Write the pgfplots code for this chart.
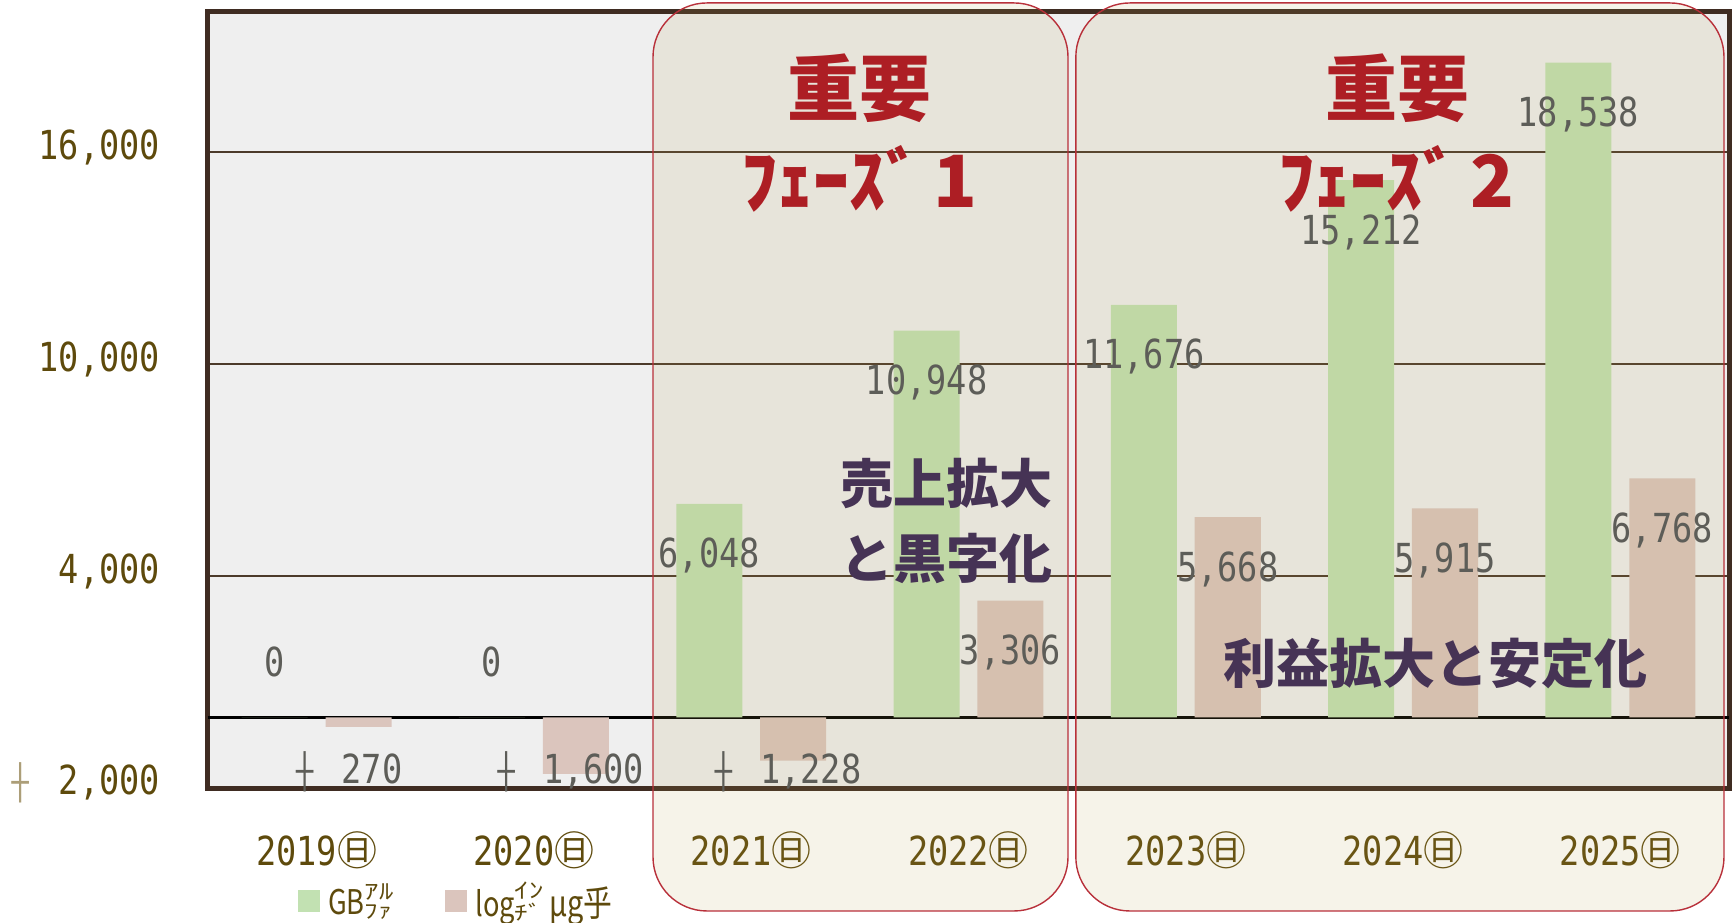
\documentclass[border=0pt]{standalone}
\usepackage{fontspec}
\usepackage{pgfplots}
\pgfplotsset{compat=1.18}
\newfontfamily\cjk{Noto Sans CJK JP}
\newfontfamily\num[FakeStretch=0.84]{DejaVu Sans Mono}
\newfontfamily\legf[FakeStretch=0.8]{Noto Sans CJK JP}
\definecolor{bgc}{RGB}{239,239,239}
\definecolor{framec}{RGB}{63,44,34}
\definecolor{gridc}{RGB}{76,58,42}
\definecolor{tickc}{RGB}{94,74,12}
\definecolor{crossc}{RGB}{172,158,120}
\definecolor{lblc}{RGB}{93,93,88}
\definecolor{barG}{RGB}{194,225,178}
\definecolor{barP}{RGB}{219,197,189}
\definecolor{ovc}{RGB}{183,159,79}
\definecolor{rectred}{RGB}{184,48,58}
\definecolor{redc}{RGB}{173,30,36}
\definecolor{purc}{RGB}{70,51,85}
\newcommand\yr[1]{#1{\cjk ㊐}}
\newcommand\cross{\scalebox{0.85}{┼}}
\newcommand\stk[2]{\raisebox{-2pt}{\scalebox{1}[0.6]{\shortstack[l]{\fontsize{18}{14}\selectfont #1\\#2}}}}
\pgfplotsset{sqleg/.style={legend image code/.code={\fill[##1] (0pt,-5.5pt) rectangle (11pt,5.5pt);}}}
\begin{document}
\begin{tikzpicture}
\useasboundingbox (-104pt,-67pt) rectangle (764pt,394pt);
\begin{axis}[
  scale only axis, width=760.5pt, height=388.5pt,
  xmin=-0.5, xmax=6.5, ymin=-2000, ymax=20000,
  axis background/.style={fill=bgc},
  axis line style={framec, line width=2.5pt},
  xtick={0,1,2,3,4,5,6},
  xticklabels={\yr{2019},\yr{2020},\yr{2021},\yr{2022},\yr{2023},\yr{2024},\yr{2025}},
  ytick={-2000,4000,10000,16000},
  yticklabels={{\textcolor{crossc}{\cross}~\hspace{5pt}2,000},{4,000},{10,000},{16,000}},
  ymajorgrids, grid style={gridc, line width=1.1pt},
  extra y ticks={0}, extra y tick labels={},
  extra y tick style={grid style={black, line width=1.5pt}},
  major tick length=0pt,
  xticklabel style={font=\num\fontsize{20}{24}\selectfont, text=tickc, anchor=center, yshift=-31pt, inner sep=0pt},
  yticklabel style={font=\num\fontsize{20}{24}\selectfont, text=tickc, anchor=east, xshift=-23.75pt, yshift=2.5pt, inner sep=0pt},
  clip=false,
  legend columns=2,
  legend cell align=left,
  legend style={at={(rel axis cs:0.055,-0.145)}, anchor=west, draw=none, fill=none,
    font=\legf\fontsize{17}{19}\selectfont, text=tickc,
    /tikz/every even column/.append style={column sep=24pt},
    /tikz/every odd column/.append style={column sep=2pt}},
]
\addplot[ybar, bar width=0.304, bar shift=-0.193, fill=barG, draw=none, sqleg]
  coordinates {(0,0) (1,0) (2,6048) (3,10948) (4,11676) (5,15212) (6,18538)};
\addlegendentry{GB\stk{ｱﾙ}{ﾌｧ}}
\addplot[ybar, bar width=0.304, bar shift=0.193, fill=barP, draw=none, sqleg]
  coordinates {(0,-270) (1,-1600) (2,-1228) (3,3306) (4,5668) (5,5915) (6,6768)};
\addlegendentry{log\stk{ｲﾝ}{ﾁﾞ}\,{\fontsize{18}{18}\selectfont μg乎}}

% phase panels
\filldraw[draw=rectred, line width=0.7pt, fill=ovc, fill opacity=0.125, rounded corners=27pt]
  (axis cs:1.548,-5482) rectangle (axis cs:3.458,20228);
\filldraw[draw=rectred, line width=0.7pt, fill=ovc, fill opacity=0.125, rounded corners=27pt]
  (axis cs:3.494,-5482) rectangle (axis cs:6.477,20228);

% headings
\node[font=\cjk\bfseries\fontsize{36}{40}\selectfont, text=redc] at (axis cs:2.5,17804) {重要};
\node[font=\cjk\bfseries\fontsize{36}{40}\selectfont, text=redc] at (axis cs:2.5,15244) {ﾌｪｰｽﾞ\hspace{6pt}1};
\node[font=\cjk\bfseries\fontsize{36}{40}\selectfont, text=redc] at (axis cs:4.976,17804) {重要};
\node[font=\cjk\bfseries\fontsize{36}{40}\selectfont, text=redc] at (axis cs:4.97,15244) {ﾌｪｰｽﾞ\hspace{6pt}2};
\node[font=\cjk\bfseries\fontsize{26.5}{30}\selectfont, text=purc] at (axis cs:2.899,6609) {売上拡大};
\node[font=\cjk\bfseries\fontsize{26.5}{30}\selectfont, text=purc] at (axis cs:2.899,4485) {と黒字化};
\node[font=\cjk\bfseries\fontsize{26.5}{30}\selectfont, text=purc] at (axis cs:5.151,1512) {利益拡大と安定化};

% data labels
\tikzset{lbl/.style={font=\num\fontsize{20}{24}\selectfont, text=lblc, anchor=center, inner sep=0pt}}
\node[lbl] at (axis cs:-0.193,1571) {0};
\node[lbl] at (axis cs:0.807,1571) {0};
\node[lbl] at (axis cs:1.807,4578) {6,048};
\node[lbl] at (axis cs:2.807,9478) {10,948};
\node[lbl] at (axis cs:3.807,10206) {11,676};
\node[lbl] at (axis cs:4.807,13742) {15,212};
\node[lbl] at (axis cs:5.807,17068) {18,538};
\node[lbl] at (axis cs:0.15,-1535) {\cross~\hspace{4pt}270};
\node[lbl] at (axis cs:1.17,-1535) {\cross~\hspace{4pt}1,600};
\node[lbl] at (axis cs:2.17,-1535) {\cross~\hspace{4pt}1,228};
\node[lbl] at (axis cs:3.193,1836) {3,306};
\node[lbl] at (axis cs:4.193,4198) {5,668};
\node[lbl] at (axis cs:5.193,4445) {5,915};
\node[lbl] at (axis cs:6.193,5298) {6,768};
\end{axis}
\end{tikzpicture}
\end{document}
